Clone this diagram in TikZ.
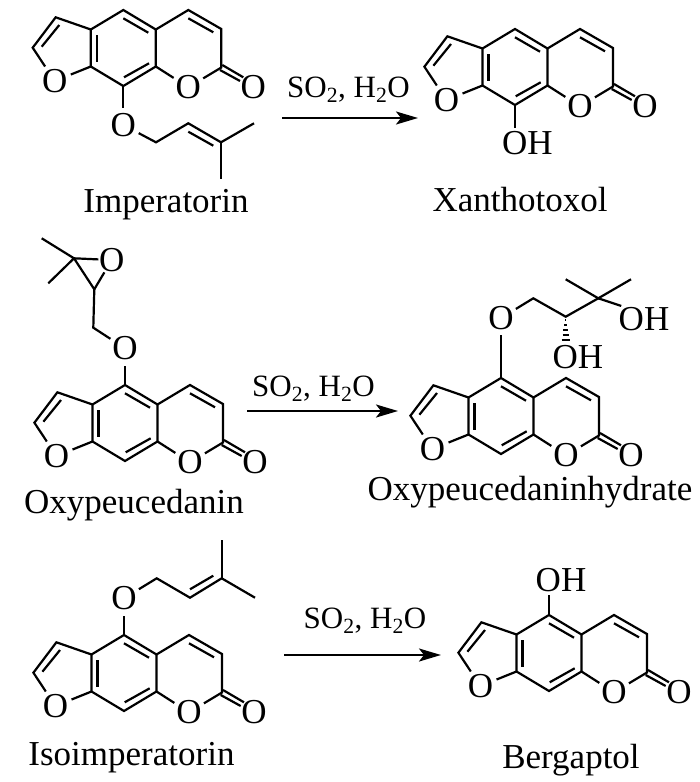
\documentclass[tikz,border=0pt]{standalone}
\usepackage{fontspec}
\setmainfont{Liberation Serif}
\usetikzlibrary{arrows.meta,calc}

\begin{document}
\begin{tikzpicture}[x=1pt, y=-1pt,
    bond/.style={line width=2.2pt},
    atom/.style={circle, inner sep=0pt, minimum size=33pt, font=\fontsize{35}{38}\selectfont},
    group/.style={inner sep=3pt, font=\fontsize{35}{38}\selectfont},
    caption/.style={anchor=base, inner sep=0pt, font=\fontsize{35}{38}\selectfont},
    reagent/.style={anchor=base, inner sep=0pt, font=\fontsize{31}{34}\selectfont},
    reaction/.style={line width=2.2pt, -{Stealth[length=22pt,width=13pt,inset=5pt]}},
    furocoumarin/.pic={
        % Ring atoms, origin at the top carbon of the benzene ring
        \coordinate (-ctop) at (0,0);
        \coordinate (-cur) at (32.5,19.5);
        \coordinate (-clr) at (32.5,56.5);
        \coordinate (-cbot) at (0,76);
        \coordinate (-cll) at (-32.5,56.5);
        \coordinate (-cul) at (-32.5,19.5);
        \coordinate (-fa) at (-67.6,7.3);
        \coordinate (-fb) at (-90.6,37.7);
        \coordinate (-pa) at (65,0);
        \coordinate (-pb) at (98,19);
        \coordinate (-pc) at (98,57.5);
        \node [atom] (-ofur) at (-68.6,71) {O};
        \node [atom] (-opyr) at (65,77.3) {O};
        \node [atom] (-oket) at (130,77.3) {O};
        % Ring bonds
        \draw [bond, line join=miter] (-cul) -- (-ctop) -- (-cur) -- (-clr) -- (-cbot) -- (-cll) -- cycle;
        \draw [bond, line join=miter] (-cul) -- (-fa) -- (-fb) -- (-ofur);
        \draw [bond] (-cll) -- (-ofur);
        \draw [bond, line join=miter] (-cur) -- (-pa) -- (-pb) -- (-pc) -- (-opyr);
        \draw [bond] (-clr) -- (-opyr);
        % Inner lines of the double bonds
        \draw [bond] (-64,15) -- (-81.6,36.7);
        \draw [bond] (-26.6,25) -- (-26.6,51.7);
        \draw [bond] (0,8.3) -- (25,22.7);
        \draw [bond] (0.7,67.3) -- (25.7,53.3);
        \draw [bond] (65,8.3) -- (90,22.3);
        \draw [bond] (99,55) -- (120,67.3);
        \draw [bond] (96.7,60) -- (116.7,71);
    }]
    \useasboundingbox (0,0) rectangle (700,782);

    % Imperatorin
    \pic (imp) at (123.3,10) {furocoumarin};
    \node [atom] (imp_o) at (123.3,125) {O};
    \coordinate (imp_ch2) at (156,142.3);
    \coordinate (imp_ch) at (188.3,123.3);
    \coordinate (imp_c) at (221,142.3);
    \coordinate (imp_me1) at (254,123.3);
    \coordinate (imp_me2) at (221,179.3);
    \draw [bond] (imp-cbot) -- (imp_o);
    \draw [bond, line join=miter] (imp_o) -- (imp_ch2) -- (imp_ch) -- (imp_c) -- (imp_me1);
    \draw [bond] (imp_c) -- (imp_me2);
    \draw [bond] (188.3,131.7) -- (213.3,145.7);
    \node [caption] (imp_name) at (166,212) {Imperatorin};

    % Xanthotoxol
    \pic (xan) at (515,29) {furocoumarin};
    \node [group] (xan_oh) at (527.5,143) {OH};
    \draw [bond] (xan-cbot) -- (xan-cbot |- xan_oh.north);
    \node [caption] (xan_name) at (520,211) {Xanthotoxol};

    % Oxypeucedanin
    \pic (oxy) at (125,385) {furocoumarin};
    \node [atom] (oxy_o) at (125,348.3) {O};
    \coordinate (oxy_ch2) at (93.3,327.7);
    \coordinate (oxy_ch) at (94.3,289.3);
    \coordinate (oxy_c) at (74,258.3);
    \coordinate (oxy_me1) at (41.7,238.3);
    \coordinate (oxy_me2) at (48.3,283.3);
    \node [atom] (oxy_ep) at (111.7,260) {O};
    \draw [bond] (oxy-ctop) -- (oxy_o);
    \draw [bond, line join=miter] (oxy_o) -- (oxy_ch2) -- (oxy_ch) -- (oxy_c);
    \draw [bond, shorten >=-4pt] (oxy_c) -- (oxy_ep);
    \draw [bond, shorten >=-3pt] (oxy_ch) -- (oxy_ep);
    \draw [bond] (oxy_me1) -- (oxy_c) -- (oxy_me2);
    \node [caption] (oxy_name) at (134,513) {Oxypeucedanin};

    % Oxypeucedaninhydrate
    \pic (hyd) at (501,378) {furocoumarin};
    \node [atom] (hyd_o) at (501,318) {O};
    \coordinate (hyd_ch2) at (533.3,298.3);
    \coordinate (hyd_choh) at (565.7,316.7);
    \coordinate (hyd_c) at (598.3,298.3);
    \coordinate (hyd_me1) at (565.7,279.3);
    \coordinate (hyd_me2) at (631,279.3);
    \node [group] (hyd_oh1) at (644,319) {OH};
    \node [group] (hyd_oh2) at (578,356.7) {OH};
    \draw [bond] (hyd-ctop) -- (hyd_o);
    \draw [bond, line join=miter] (hyd_o) -- (hyd_ch2) -- (hyd_choh) -- (hyd_c);
    \draw [bond] (hyd_me1) -- (hyd_c) -- (hyd_me2);
    \draw [bond, shorten >=-6pt] (hyd_c) -- (hyd_oh1.north west);
    % Hashed bond
    \foreach \i/\w in {3/0.7, 8/1.5, 13/2.3, 18/3.1, 23/4} {
        \draw [line width=1.6pt] ($(hyd_choh)+(-\w,\i)$) -- ($(hyd_choh)+(\w,\i)$);
    }
    \node [caption] (hyd_name) at (530,500) {Oxypeucedaninhydrate};

    % Isoimperatorin
    \pic (iso) at (124,635) {furocoumarin};
    \node [atom] (iso_o) at (124,598.3) {O};
    \coordinate (iso_ch2) at (156.7,578.3);
    \coordinate (iso_ch) at (190,597.7);
    \coordinate (iso_c) at (221.7,578.3);
    \coordinate (iso_me1) at (221.7,540);
    \coordinate (iso_me2) at (255,597.7);
    \draw [bond] (iso-ctop) -- (iso_o);
    \draw [bond, line join=miter] (iso_o) -- (iso_ch2) -- (iso_ch) -- (iso_c) -- (iso_me2);
    \draw [bond] (iso_c) -- (iso_me1);
    \draw [bond] (190,589.3) -- (213.3,575.7);
    \node [caption] (iso_name) at (131.5,765) {Isoimperatorin};

    % Bergaptol
    \pic (ber) at (549,615) {furocoumarin};
    \node [group] (ber_oh) at (561,580) {OH};
    \draw [bond] (ber-ctop) -- (ber-ctop |- ber_oh.south);
    \node [caption] (ber_name) at (571,768) {Bergaptol};

    % Reactions
    \coordinate (rea_a) at (282,118);
    \coordinate (pro_a) at (418,118);
    \draw [reaction] (rea_a) -- (pro_a);
    \node [reagent] (cond_a) at (348.5,97) {SO\textsubscript{2}, H\textsubscript{2}O};

    \coordinate (rea_b) at (247,411);
    \coordinate (pro_b) at (398,411);
    \draw [reaction] (rea_b) -- (pro_b);
    \node [reagent] (cond_b) at (313.5,396) {SO\textsubscript{2}, H\textsubscript{2}O};

    \coordinate (rea_c) at (284,655);
    \coordinate (pro_c) at (441,655);
    \draw [reaction] (rea_c) -- (pro_c);
    \node [reagent] (cond_c) at (365,628) {SO\textsubscript{2}, H\textsubscript{2}O};
\end{tikzpicture}
\end{document}
